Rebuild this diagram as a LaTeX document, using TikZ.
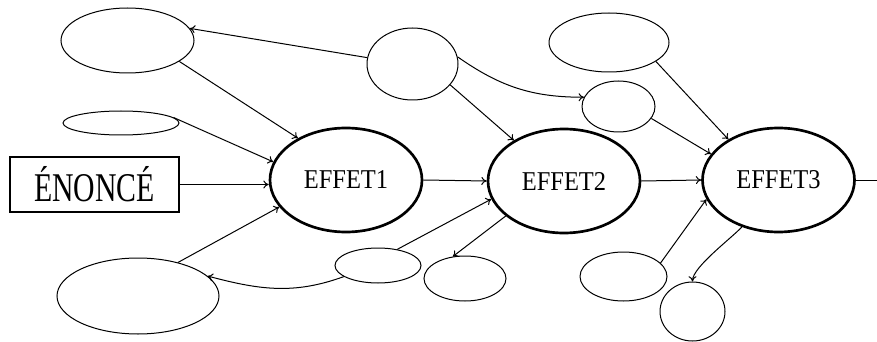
\documentclass[tikz,border=0pt]{standalone}
\usepackage{fontspec}
\newfontfamily\effetfont[FakeStretch=0.9]{Liberation Serif}
\newfontfamily\enoncefont[FakeStretch=0.73]{Liberation Serif}
\usetikzlibrary{shapes.geometric,arrows.meta}

\tikzset{every picture/.style={line width=0.75pt}}
\tikzset{
  bulle/.style={draw, ellipse, inner sep=0pt},
  effet/.style={draw, ellipse, inner sep=0pt, line width=2pt, minimum width=114pt, minimum height=78pt, font=\effetfont\fontsize{20.4}{22}\selectfont},
  enoncebox/.style={draw, rectangle, inner sep=0pt, line width=2.2pt, minimum width=126.75pt, minimum height=41.25pt, font=\enoncefont\fontsize{30.6}{32}\selectfont},
  lien/.style={-{To[length=4pt,width=6pt]}},
}

\begin{document}
\begin{tikzpicture}[x=0.75pt,y=0.75pt,yscale=-1,xscale=1]
	\useasboundingbox (0,0) rectangle (877,342);

	% main chain
	\node [enoncebox] (enonce) at (94.5,184.5) {ÉNONCÉ};
	\node [effet] (effet1) at (346,180) {EFFET1};
	\node [effet] (effet2) at (564,181) {EFFET2};
	\node [effet] (effet3) at (778.5,180) {EFFET3};
	\coordinate (bord) at (877,180);

	% side ellipses
	\node [bulle, minimum width=99.75pt, minimum height=48.75pt] (a) at (127.5,40.5) {};
	\node [bulle, minimum width=87pt, minimum height=18pt] (b) at (121,123) {};
	\node [bulle, minimum width=121.5pt, minimum height=57pt] (c) at (138,296) {};
	\node [bulle, minimum width=68.25pt, minimum height=54pt] (d) at (412.5,64) {};
	\node [bulle, minimum width=90pt, minimum height=44.25pt] (e) at (609,42.5) {};
	\node [bulle, minimum width=54.75pt, minimum height=38.25pt] (f) at (618.5,106.5) {};
	\node [bulle, minimum width=64.5pt, minimum height=26.25pt] (g) at (378,265.5) {};
	\node [bulle, minimum width=61.5pt, minimum height=33.75pt] (h) at (465,278.5) {};
	\node [bulle, minimum width=65.25pt, minimum height=36.75pt] (i) at (623.5,276.5) {};
	\node [bulle, minimum width=48.75pt, minimum height=44.25pt] (j) at (692.5,311.5) {};

	% links (yscale=-1, so to[] angles are flipped)
	\draw [lien] (enonce.east) -- (effet1.west |- enonce.east);
	\draw [lien] (effet1.east) -- (effet2.west);
	\draw [lien] (effet2.east) -- (effet3.west);
	\draw (effet3.east) -- (bord);

	\draw [lien] (d.172) -- (a.11);
	\draw [lien] (a.-22) -- (effet1.139);
	\draw [lien] (b.6) -- (effet1.166);
	\draw [lien] (c.40) -- (effet1.202);
	\draw [lien] (g.198) to[out=160,in=15] (c.16);
	\draw [lien] (g.40) -- (effet2.194);
	\draw [lien] (effet2.211) -- (h.119);
	\draw [lien] (d.-29) -- (effet2.141);
	\draw [lien] (d.9) to[out=35,in=180] (f.165);
	\draw [lien] (f.-20) -- (effet3.159);
	\draw [lien] (e.-22) -- (effet3.141);
	\draw [lien] (i.20) -- (effet3.195);
	\draw [lien] (effet3.232) to[out=132,in=-90,looseness=0.5] (j.90);

\end{tikzpicture}
\end{document}
